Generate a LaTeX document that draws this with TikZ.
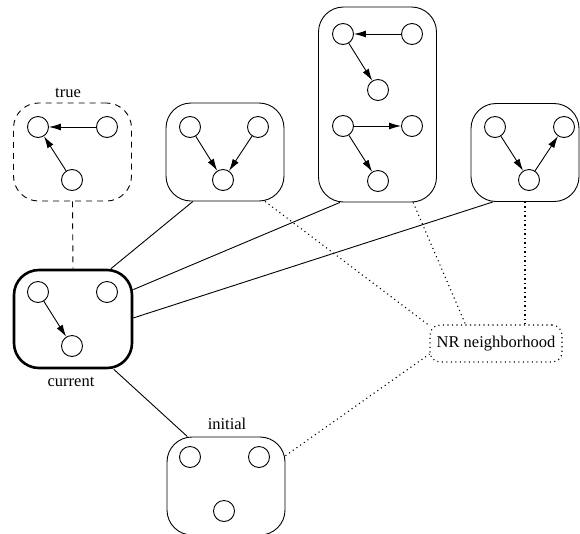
\documentclass[tikz,border=0pt]{standalone}
\usepackage{fontspec}
\setmainfont{Liberation Serif}
\usetikzlibrary{arrows.meta}

\begin{document}
\begin{tikzpicture}[x=1pt,y=-1pt,
  vtx/.style={circle,draw,line width=0.9pt,minimum size=21pt,inner sep=0pt},
  graphbox/.style={draw,line width=0.9pt,rounded corners=25pt,minimum width=118pt,minimum height=98pt,inner sep=0pt},
  dep/.style={-{Latex[length=12pt,width=7pt]},line width=0.9pt},
  link/.style={line width=0.9pt},
  nrlink/.style={line width=1.1pt,dash pattern=on 1.1pt off 3.4pt},
  lbl/.style={font=\fontsize{16.5}{20}\selectfont}]
  \useasboundingbox (0,0) rectangle (580,533);

  % the graphs
  \node[graphbox,dash pattern=on 6pt off 5pt] (truebox) at (72.5,152) {};
  \node[graphbox] (cand1) at (225,152) {};
  \node[graphbox,minimum height=195pt] (cand2) at (377.5,104.5) {};
  \node[graphbox,minimum width=108pt] (cand3) at (525,152.5) {};
  \node[graphbox,line width=2.6pt] (current) at (73,319) {};
  \node[graphbox] (initial) at (226,486) {};
  \node[draw,nrlink,rounded corners=10pt,minimum width=132pt,minimum height=37pt,lbl] (nr) at (496,343.5) {NR neighborhood};

  \node[lbl] at (68,93) {true};
  \node[lbl] at (71,382) {current};
  \node[lbl] at (227,424) {initial};

  % true
  \node[vtx] (t1) at (38,127) {};
  \node[vtx] (t2) at (107,127) {};
  \node[vtx] (t3) at (72,180) {};
  \draw[dep] (t2) -- (t1);
  \draw[dep] (t3) -- (t1);

  % neighbours
  \node[vtx] (a1) at (190,127) {};
  \node[vtx] (a2) at (258,127) {};
  \node[vtx] (a3) at (223,180) {};
  \draw[dep] (a1) -- (a3);
  \draw[dep] (a2) -- (a3);

  \node[vtx] (b1) at (343,34) {};
  \node[vtx] (b2) at (412,34) {};
  \node[vtx] (b3) at (378,90) {};
  \node[vtx] (b4) at (343,126) {};
  \node[vtx] (b5) at (412,126) {};
  \node[vtx] (b6) at (378,181) {};
  \draw[dep] (b2) -- (b1);
  \draw[dep] (b1) -- (b3);
  \draw[dep] (b4) -- (b5);
  \draw[dep] (b4) -- (b6);

  \node[vtx] (c1) at (495,127) {};
  \node[vtx] (c2) at (564,127) {};
  \node[vtx] (c3) at (529,180) {};
  \draw[dep] (c1) -- (c3);
  \draw[dep] (c3) -- (c2);

  % current and initial
  \node[vtx] (d1) at (38,292) {};
  \node[vtx] (d2) at (107,292) {};
  \node[vtx] (d3) at (72,346) {};
  \draw[dep] (d1) -- (d3);

  \node[vtx] (e1) at (190,457) {};
  \node[vtx] (e2) at (259,457) {};
  \node[vtx] (e3) at (224,511) {};

  % links
  \draw[link,dash pattern=on 6pt off 5pt] (truebox.south) -- (current.north);
  \draw[link] (current.53) -- (cand1.237);
  \draw[link] (current.26) -- (cand2.249);
  \draw[link] (current.1) -- (cand3.237);
  \draw[link] (current.-51) -- (initial.128);

  \draw[nrlink] (cand1.-51) -- (nr.165);
  \draw[nrlink] (cand2.-70) -- (nr.148);
  \draw[nrlink] (cand3.south) -- (cand3.south |- nr.north);
  \draw[nrlink] (initial.27) -- (nr.189);
\end{tikzpicture}
\end{document}
